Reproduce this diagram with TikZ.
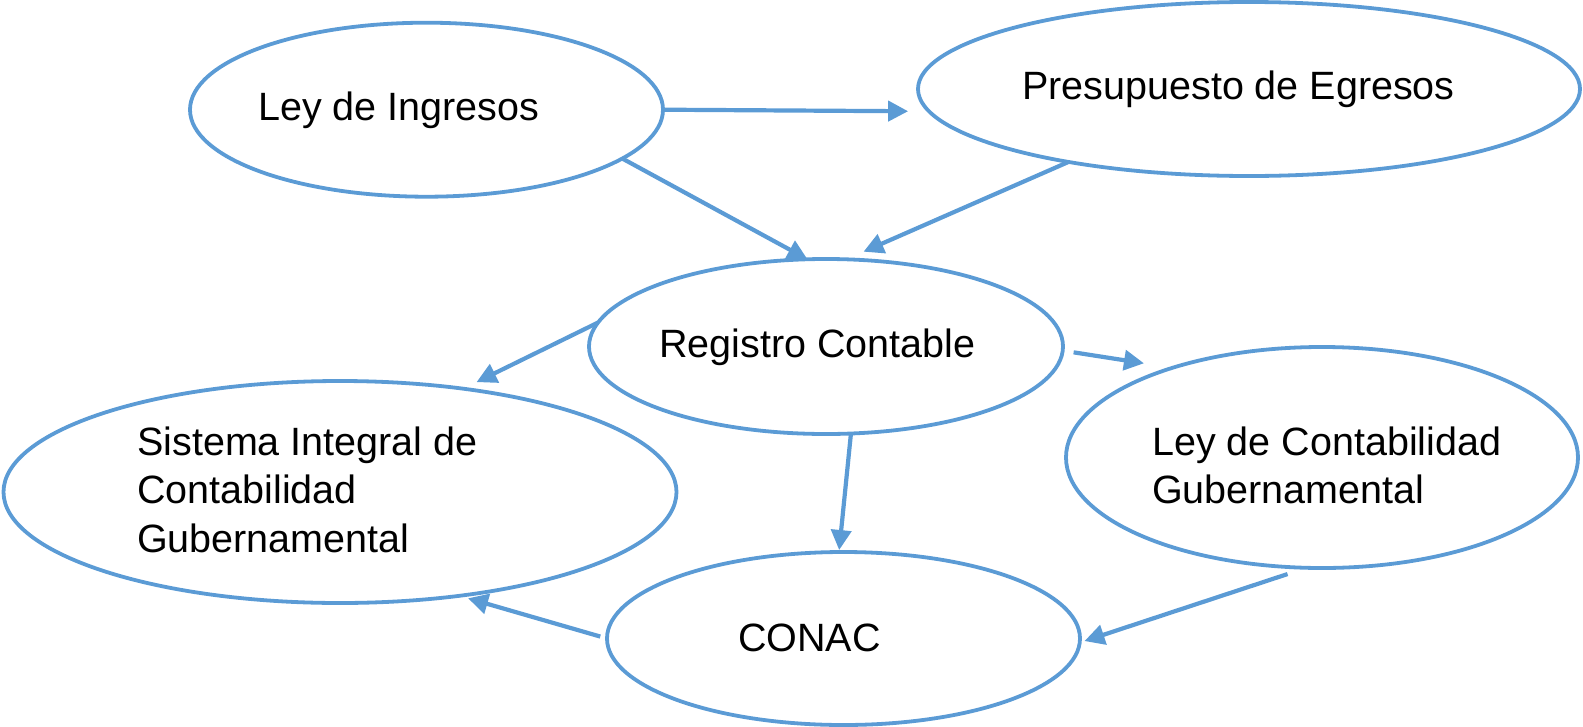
\documentclass[tikz,border=0pt]{standalone}
\usepackage{fontspec}
\setmainfont{Liberation Sans}
\usetikzlibrary{arrows.meta, shapes.geometric}
\definecolor{wordblue}{RGB}{91,155,213}

\begin{document}
\begin{tikzpicture}[x=1pt, y=-1pt,
        bubble/.style={draw=wordblue, line width=3.8pt, ellipse, outer sep=0pt, inner sep=0pt},
        bubbletext/.style={anchor=base west, font=\fontsize{39.5}{48.5}\selectfont, align=left, inner sep=0pt},
        link/.style={draw=wordblue, line width=4.2pt, -{Triangle[length=20pt, width=20pt]}}]
        \useasboundingbox (0, 0) rectangle (1583, 726);
        \node[bubble, minimum width=473pt, minimum height=174pt] (ingresos) at (426.5, 109.7) {};
        \node[bubble, minimum width=662pt, minimum height=174pt] (egresos) at (1249, 89) {};
        \node[bubble, minimum width=474pt, minimum height=175pt] (registro) at (826, 346.5) {};
        \node[bubble, minimum width=673pt, minimum height=222pt] (sistema) at (340, 492) {};
        \node[bubble, minimum width=512pt, minimum height=221pt] (ley) at (1322, 457.5) {};
        \node[bubble, minimum width=473pt, minimum height=173pt] (conac) at (843.5, 638.5) {};
        \node[bubbletext] (ingresos-t) at (258, 120) {Ley de Ingresos};
        \node[bubbletext] (egresos-t) at (1022, 99) {Presupuesto de Egresos};
        \node[bubbletext] (registro-t) at (659, 357) {Registro Contable};
        \node[bubbletext] (sistema-t) at (137, 552) {Sistema Integral de\\Contabilidad\\Gubernamental};
        \node[bubbletext] (ley-t) at (1152, 503.5) {Ley de Contabilidad\\Gubernamental};
        \node[bubbletext] (conac-t) at (738, 651) {CONAC};
        \draw[link, shorten >=21pt] (ingresos.east) -- (egresos.184);
        \draw[link] (ingresos.-14) -- (registro.102);
        \draw[link, shorten >=19pt] (egresos.202) -- (registro.77);
        \draw[link, shorten >=15pt] (registro.174) -- (sistema.40);
        \draw[link, shorten <=11pt, shorten >=29pt] (registro.-1) -- (ley.149);
        \draw[link, shorten >=2pt] (registro.-74) -- (conac.93);
        \draw[link, shorten <=7pt, shorten >=9pt] (conac.west) -- (sistema.-41);
        \draw[link, shorten <=20pt, shorten >=5pt] (ley.262) -- (conac.-1);
\end{tikzpicture}
\end{document}
